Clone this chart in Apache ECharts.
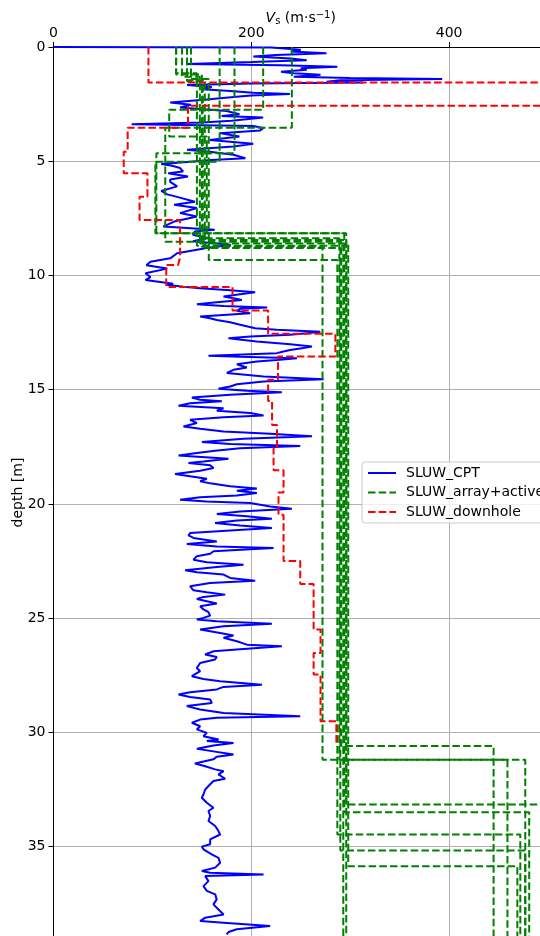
<!DOCTYPE html>
<html>
<head>
<meta charset="utf-8">
<script src="https://cdn.jsdelivr.net/npm/echarts@6/dist/echarts.min.js"></script>
<style>
html,body{margin:0;padding:0;background:#fff;}
#chart{width:540px;height:936px;}
</style>
</head>
<body>
<div id="chart"></div>
<script>
// ---------- DATA ----------
const xTicks = [0, 200, 400];
const yTicks = [0, 5, 10, 15, 20, 25, 30, 35];

// SLUW_CPT : depth [m] and Vs [m/s]
const cptDepth = [0,0.02,0.05,0.12,0.2,0.27,0.35,0.42,0.5,0.58,0.66,0.74,0.8,0.86,0.93,1.0,1.08,1.15,1.22,1.3,1.36,1.4,1.46,1.52,1.55,1.6,1.66,1.75,1.85,1.92,2.0,2.06,2.12,2.18,2.3,2.43,2.53,2.65,2.8,2.94,3.02,3.09,3.16,3.23,3.3,3.38,3.46,3.55,3.65,3.77,3.92,4.07,4.24,4.36,4.5,4.6,4.72,4.87,4.95,5.03,5.12,5.2,5.3,5.45,5.53,5.67,5.8,5.9,6.1,6.3,6.45,6.55,6.77,6.9,7.05,7.27,7.42,7.64,7.86,8.0,8.08,8.22,8.37,8.5,8.66,8.8,9.03,9.25,9.4,9.55,9.7,9.9,10.07,10.2,10.36,
  10.41,10.49,10.56,10.65,10.74,10.82,10.92,11.0,11.07,11.17,11.26,11.34,11.4,11.46,11.55,11.65,11.73,11.8,11.87,11.95,12.05,12.16,12.31,12.38,12.46,12.53,12.6,12.67,12.75,12.82,12.89,13.01,13.11,13.18,13.26,13.33,13.4,13.51,13.56,13.62,13.7,13.77,13.89,
  14.03,14.13,14.27,14.42,14.54,14.64,14.76,14.86,14.96,15.05,15.11,15.22,15.34,15.44,15.51,15.59,15.7,15.81,15.92,16.02,16.13,16.21,16.32,16.46,16.61,16.71,16.83,16.93,17.04,17.15,17.29,17.38,17.47,17.56,17.67,17.77,17.88,18.02,18.14,18.21,18.31,18.43,18.55,18.69,18.79,18.9,19.01,19.1,19.23,19.33,19.42,19.52,19.63,19.71,19.82,19.89,19.96,20.11,20.21,20.33,20.44,20.54,20.65,20.73,20.84,20.94,21.05,21.16,21.27,21.38,21.49,21.64,21.75,21.86,21.93,
  22.07,22.18,22.29,22.44,22.55,22.66,22.76,22.9,22.99,23.09,23.24,23.36,23.46,23.6,23.78,23.87,23.97,24.07,24.16,24.26,24.36,24.48,24.62,24.74,24.89,24.99,25.06,25.14,25.24,25.35,25.5,25.65,25.76,25.86,26.01,26.16,26.23,26.35,26.45,26.59,26.7,26.81,26.96,27.18,27.32,27.54,27.66,27.76,27.91,28.01,28.12,28.24,28.34,28.45,28.56,28.71,28.85,29.0,29.15,29.29,29.36,29.44,29.58,29.73,29.87,30.02,30.17,
  30.31,30.38,30.46,30.57,30.72,30.82,30.97,31.07,31.18,31.36,31.48,31.62,31.7,31.84,32.03,32.13,32.35,32.5,32.72,32.86,33.08,33.3,33.44,33.66,33.88,34.1,34.32,34.47,34.68,34.9,35.0,35.12,35.34,35.49,35.71,35.92,36.07,36.14,36.22,36.29,36.51,36.73,36.94,37.09,37.31,37.53,37.75,37.97,38.11,38.26,38.33,38.48,38.62,38.74,38.84];
const cptVs = [0,220,220,250,240,276,225,202,240,256,200,135,230,287,250,256,230,243,270,243,300,393,290,276,313,200,135,160,150,175,202,239,200,185,155,118,139,128,175,188,170,212,212,180,150,79,202,212,209,168,188,158,202,182,135,160,182,194,160,135,109,120,128,131,116,136,118,118,125,109,115,124,143,122,145,128,145,122,111,163,143,141,155,141,179,155,125,118,98,94,115,93,98,93,121,
  114.6,131.4,148.3,178.6,203.9,188.7,171.9,182,190.4,165.1,145,172,216,188.7,185.4,198.9,171.9,148.3,158.4,165.1,178.6,188.7,203.9,225.9,269.7,256.2,239.3,198.9,176.9,192.1,205.6,239.3,261.3,252.8,239.3,232.6,225.9,156.7,188.7,246.1,225.9,205.6,185.4,
  195.5,182,175.3,212.4,273.1,212.4,185.4,178.6,166.8,195.5,230.9,178.6,139.9,148.3,170.2,138.1,126.4,171.9,165.1,198.9,212.4,171.9,138.1,145,131.4,148.3,171.9,219.1,261.3,192.1,150,178.6,249.5,188.7,163.4,145,126.4,176.9,151.6,136.5,158.4,161.8,148.3,122.9,138.1,155,148.3,158.4,178.6,205.6,185.4,205.6,185.4,148.3,128,155,198.9,219.1,241,188.7,165.1,195.5,220.8,185.4,163.4,188.7,220.8,178.6,138.1,136.5,141.5,165.1,134.8,165.1,222.5,
  161.8,158.4,144.9,141.5,155,192.1,165.1,133.1,144.9,171.9,178.6,203.9,158.4,138.1,141.5,155,173.6,151.6,144.9,155,165.1,148.3,151.6,156.7,158.4,151.6,144.9,165.1,220.8,171.9,148.3,168.5,182,171.9,185.4,195.5,230.9,192.1,161.8,153.3,165.1,163.4,148.3,144.9,148.3,139.9,151.6,168.5,210.7,171.9,165.1,138.1,126.4,138.1,158.4,160.1,134.8,148.3,171.9,249.5,165.1,148.3,139.9,148.3,144.9,155,151.6,
  167,155,182,161.7,145,160,182,165,161.7,143,153.4,163.5,172,166.8,173.6,161.7,156.7,153.4,151.6,150,155,161.7,156.7,158.4,156.7,163.5,166.8,168.5,158.4,158.4,150,151.6,160,166.8,168.5,163.5,150,158.4,212.4,153.4,156.7,151.6,155,163.5,165,161.7,166.8,172,153.4,148.3,172,219,185.3,177,175];

// SLUW_downhole : layer Vs and layer bottom depth
const downholeVs     = [96, 600, 136, 75, 71, 95, 87, 128, 126, 114, 181, 217, 285, 227, 217, 221, 226, 222.5, 232.6, 227.5, 232.6, 249.5, 263, 270, 263, 270, 286];
const downholeBottom = [1.55, 2.57, 3.53, 4.58, 5.53, 6.55, 7.57, 9.2, 9.54, 10.5, 11.53, 12.55, 13.55, 14.57, 15.5, 16.54, 17.53, 18.53, 19.5, 20.47, 22.5, 23.5, 25.5, 26.52, 27.47, 29.51, 30.46];

// SLUW_array+active : several inverted profiles (layer Vs, layer bottom depth)
const arrayVs1  = [241, 113, 291, 445];      const arrayBottom1  = [3.53, 8.52, 30.6, 45];
const arrayVs2  = [212, 117, 155, 289, 459]; const arrayBottom2  = [2.75, 3.92, 8.37, 31.2, 45];
const arrayVs3  = [183, 104, 296, 600];      const arrayBottom3  = [4.65, 8.15, 33.16, 45];
const arrayVs4  = [168, 103, 294, 481];      const arrayBottom4  = [5.02, 8.15, 33.5, 45];
const arrayVs5  = [139, 157, 287, 472];      const arrayBottom5  = [1.4, 9.32, 34.47, 45];
const arrayVs6  = [135, 153, 290, 477];      const arrayBottom6  = [1.5, 8.8, 35.17, 45];
const arrayVs7  = [130, 148, 298, 469];      const arrayBottom7  = [1.3, 8.6, 35.86, 45];
const arrayVs8  = [124, 145, 293];           const arrayBottom8  = [1.15, 8.7, 45];
const arrayVs9  = [124, 150, 272, 477];      const arrayBottom9  = [1.2, 8.74, 31.2, 45];
const arrayVs10 = [135, 151, 296];           const arrayBottom10 = [1.45, 8.45, 45];

// ---------- BUILD ----------
function steps(vs, bottoms) {
  const pts = [];
  let top = 0;
  for (let i = 0; i < vs.length; i++) {
    pts.push([vs[i], top]);
    pts.push([vs[i], bottoms[i]]);
    top = bottoms[i];
  }
  return pts;
}
const cptData = cptDepth.map((d, i) => [cptVs[i], d]);
const arrays = [
  [arrayVs1, arrayBottom1], [arrayVs2, arrayBottom2], [arrayVs3, arrayBottom3],
  [arrayVs4, arrayBottom4], [arrayVs5, arrayBottom5], [arrayVs6, arrayBottom6],
  [arrayVs7, arrayBottom7], [arrayVs8, arrayBottom8], [arrayVs9, arrayBottom9],
  [arrayVs10, arrayBottom10]
];
const DASH = [7.5, 3.2];
const FONT = 'DejaVu Sans';

const series = [{
  name: 'SLUW_CPT', type: 'line', data: cptData, symbol: 'none', clip: true,
  lineStyle: { color: '#0000ff', width: 2 }, itemStyle: { color: '#0000ff' }
}];
arrays.forEach(a => series.push({
  name: 'SLUW_array+active', type: 'line', data: steps(a[0], a[1]), symbol: 'none', clip: true,
  lineStyle: { color: '#008000', width: 2, type: DASH }, itemStyle: { color: '#008000' }
}));
series.push({
  name: 'SLUW_downhole', type: 'line', data: steps(downholeVs, downholeBottom), symbol: 'none', clip: true,
  lineStyle: { color: '#ff0000', width: 2, type: DASH }, itemStyle: { color: '#ff0000' }
});

const chart = echarts.init(document.getElementById('chart'), null, { renderer: 'canvas' });
chart.setOption({
  animation: false,
  backgroundColor: '#ffffff',
  textStyle: { fontFamily: FONT },
  grid: { left: 53.5, right: -8, top: 47, bottom: -2, containLabel: false, outerBoundsMode: 'none' },
  xAxis: {
    type: 'value', position: 'top', min: 0, max: 500, interval: 200,
    name: '{i|V}{sub|s} (m·s{sup|−1})', nameLocation: 'middle', nameGap: 21, nameMoveOverlap: false,
    nameTextStyle: {
      fontFamily: FONT, fontSize: 14, color: '#000',
      rich: {
        i: { fontFamily: FONT, fontStyle: 'italic', fontSize: 14, color: '#000' },
        sub: { fontFamily: FONT, fontSize: 10, color: '#000', verticalAlign: 'bottom', padding: [6, 0, 0, 0] },
        sup: { fontFamily: FONT, fontSize: 10, color: '#000', verticalAlign: 'top', padding: [0, 0, 6, 0] }
      }
    },
    axisLine: { show: true, lineStyle: { color: '#000', width: 1 } },
    axisTick: { show: true, length: 5, lineStyle: { color: '#000' } },
    axisLabel: { fontFamily: FONT, fontSize: 14, color: '#000', margin: 7,
      formatter: v => (xTicks.indexOf(v) >= 0 ? String(v) : '') },
    splitLine: { show: true, lineStyle: { color: '#b0b0b0', width: 1 } }
  },
  yAxis: {
    type: 'value', inverse: true, min: 0, max: 39, interval: 5,
    name: 'depth [m]', nameLocation: 'middle', nameGap: 28, nameRotate: 90, nameMoveOverlap: false,
    nameTextStyle: { fontFamily: FONT, fontSize: 14, color: '#000' },
    axisLine: { show: true, lineStyle: { color: '#000', width: 1 } },
    axisTick: { show: true, length: 5, lineStyle: { color: '#000' } },
    axisLabel: { fontFamily: FONT, fontSize: 14, color: '#000', margin: 8,
      formatter: v => (yTicks.indexOf(v) >= 0 ? String(v) : '') },
    splitLine: { show: true, lineStyle: { color: '#b0b0b0', width: 1 } }
  },
  legend: {
    orient: 'vertical', left: 362, top: 462,
    data: ['SLUW_CPT', 'SLUW_array+active', 'SLUW_downhole'],
    itemWidth: 28, itemHeight: 14, itemGap: 5.5,
    padding: [4, 40, 4, 5],
    backgroundColor: 'rgba(255,255,255,0.8)', borderColor: '#cccccc', borderWidth: 1, borderRadius: 3,
    itemStyle: { color: 'rgba(0,0,0,0)', borderWidth: 0, opacity: 0 },
    textStyle: { fontFamily: FONT, fontSize: 14, color: '#000', padding: [0, 0, 0, 5] }
  },
  series: series
});
</script>
</body>
</html>
